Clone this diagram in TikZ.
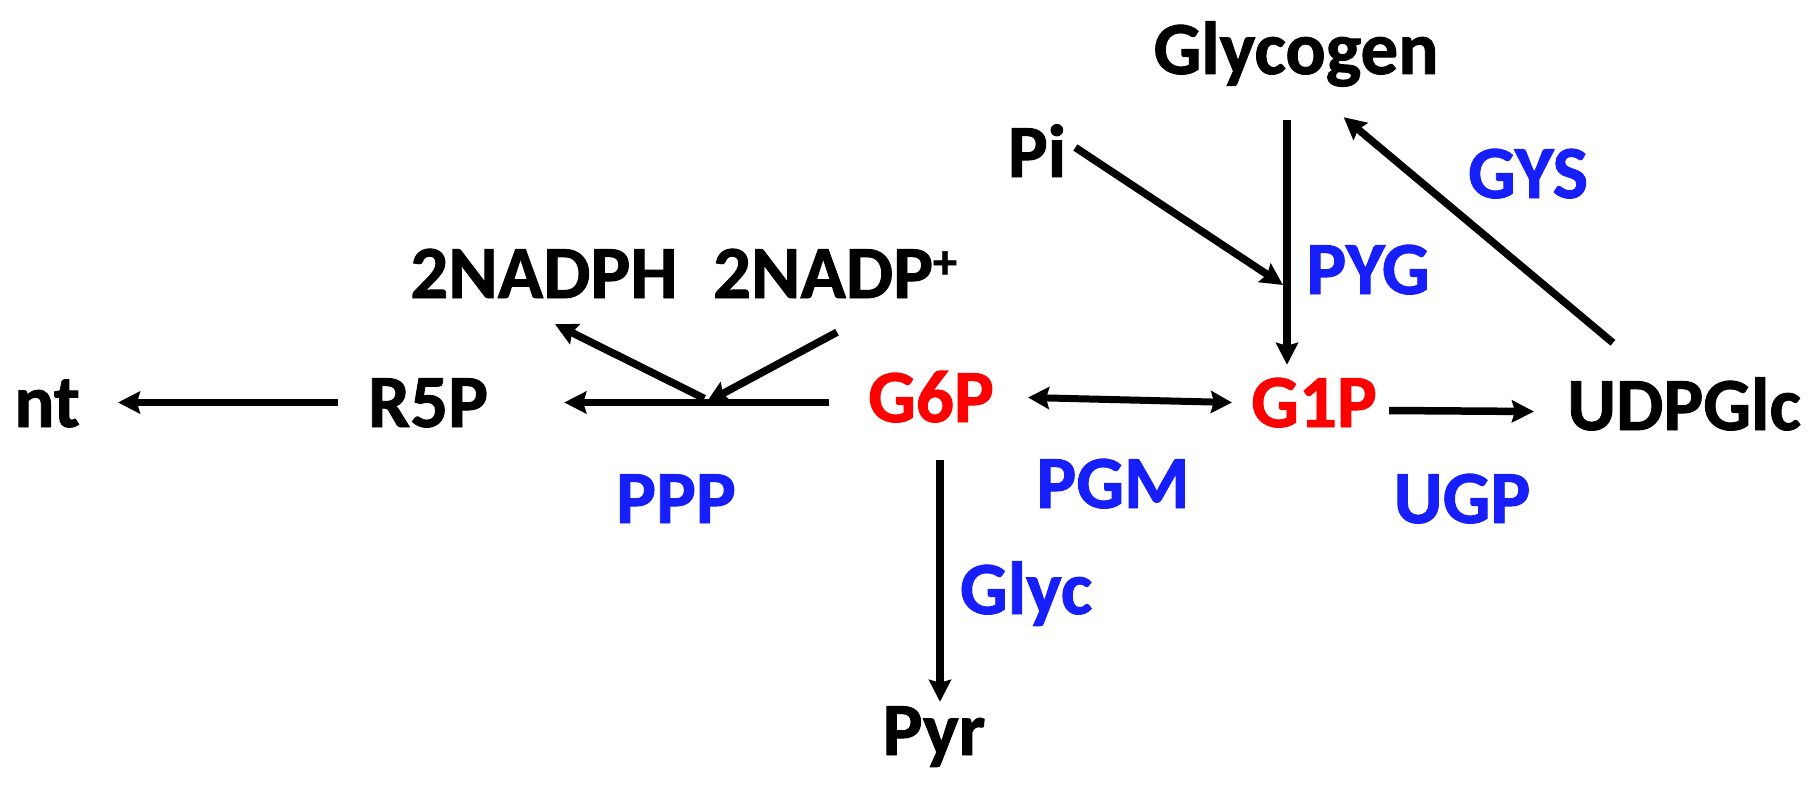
\documentclass[tikz,border=0pt]{standalone}
\usepackage{fontspec}
\setmainfont{Carlito}[BoldFeatures={FakeBold=1.2}]
\usetikzlibrary{arrows.meta}
\definecolor{enzblue}{RGB}{22,30,250}
\definecolor{metred}{RGB}{255,0,0}
\begin{document}
\begin{tikzpicture}[x=1pt,y=-1pt,
  lab/.style={inner sep=0pt, anchor=base, text height=49pt, text depth=0pt,
    font=\fontsize{75}{80}\selectfont\bfseries},
  enz/.style={lab, text=enzblue},
  met/.style={lab, text=metred},
  arr/.style={line width=7.5pt, -{Stealth[length=22pt,width=22pt,inset=3pt]}},
  dbl/.style={line width=7pt, {Stealth[length=21pt,width=22pt,inset=3pt]}-{Stealth[length=21pt,width=22pt,inset=3pt]}},
]
\useasboundingbox (0,0) rectangle (1817,789);
% metabolites
\node[lab] (nt) at (47,427) {nt};
\node[lab] (R5P) at (428,427) {R5P};
\node[lab] (NADPH) at (544,298) {2NADPH};
\node[lab] (NADPp) at (835,298) {2NADP\raisebox{20pt}{\fontsize{48}{48}\selectfont +}};
\node[met] (G6P) at (931,422) {G6P};
\node[met] (G1P) at (1314,427) {G1P};
\node[lab] (UDPGlc) at (1684,430) {UDPGlc};
\node[lab] (Glycogen) at (1296,74) {Glycogen};
\node[lab] (Pi) at (1037,177) {Pi};
\node[lab] (Pyr) at (934,755) {Pyr};
% enzymes
\node[enz] (PYG) at (1368,294) {PYG};
\node[enz] (GYS) at (1528,198) {GYS};
\node[enz] (PGM) at (1113,508) {PGM};
\node[enz] (UGP) at (1462,523) {UGP};
\node[enz] (PPP) at (676,523) {PPP};
\node[enz] (Glyc) at (1026,614) {Glyc};
% helper coordinates
\coordinate (jn) at ([xshift=218pt]R5P.east);
\coordinate (g6w) at ([xshift=-39pt]G6P.west);
\coordinate (pyg) at (1283,285);
% connectors
\draw[arr] ([xshift=-30pt]R5P.west) -- ([xshift=38pt]nt.east);
\draw[arr] (g6w |- R5P.east) -- ([xshift=76pt]R5P.east);
\draw[arr] ([xshift=-2pt,yshift=4pt]jn) -- ([xshift=11pt,yshift=-26pt]NADPH.south);
\draw[arr] ([xshift=2pt,yshift=-34pt]NADPp.south) -- (jn);
\draw[dbl] ([xshift=34pt]G6P.east) -- ([xshift=-19pt]G1P.west);
\draw[arr] ([xshift=12pt,yshift=-8pt]G1P.east) -- ([xshift=-33pt,yshift=-6pt]UDPGlc.west);
\draw[arr] ([xshift=9pt,yshift=-38pt]G6P.south) -- ([xshift=6pt,yshift=4pt]Pyr.north);
\draw[arr] ([xshift=-9pt,yshift=-46pt]Glycogen.south) -- ([xshift=-27pt,yshift=13pt]G1P.north);
\draw[arr] ([xshift=9pt,yshift=5pt]Pi.east) -- (pyg);
\draw[arr] ([xshift=46pt,yshift=38pt]UDPGlc.north west) -- ([xshift=-95pt,yshift=-43pt]Glycogen.south east);
\end{tikzpicture}
\end{document}
